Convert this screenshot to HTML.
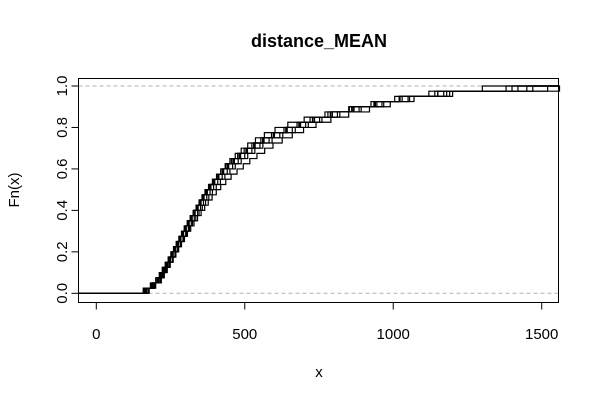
<!DOCTYPE html>
<html><head><meta charset="utf-8"><style>
body{margin:0;background:#fff}
svg{display:block;font-family:"Liberation Sans",Arial,sans-serif}
</style></head><body>
<svg id="chart" width="600" height="400" viewBox="0 0 600 400">
<text x="319" y="47" text-anchor="middle" font-size="18" font-weight="bold">distance_MEAN</text>
<text x="319" y="377" text-anchor="middle" font-size="15">x</text>
<text transform="translate(19,190) rotate(-90)" text-anchor="middle" font-size="15">Fn(x)</text>
<g id="marks"></g>
<rect x="78.5" y="78.5" width="480" height="224" fill="none" stroke="#000" stroke-width="1"/>
<g id="axes"></g>
</svg>
<script>
const xTicks=[0,500,1000,1500];
const yTicks=[0,0.2,0.4,0.6,0.8,1.0];
const yTickLabels=["0.0","0.2","0.4","0.6","0.8","1.0"];
const s1=[165,190,207,218,228,238,248,257,266,275,283,292,301,311,321,332,342,352,362,372,384,397,411,427,444,462,483,506,532,562,598,641,685,730,790,864,940,1023,1150,1450];
const s2=[158,182,200,212,222,232,242,251,260,269,278,287,296,306,316,326,336,346,356,366,378,391,405,420,437,455,476,498,524,554,590,632,676,720,780,852,925,1005,1120,1380];
const s3=[175,198,216,226,236,246,256,265,274,283,292,301,310,320,330,341,351,361,372,383,395,409,424,441,459,478,500,524,551,582,618,660,705,752,812,885,962,1050,1180,1520];
const s4=[160,186,204,215,225,235,245,254,263,272,280,289,298,308,318,329,339,349,359,369,380,392,405,419,434,450,468,488,510,536,566,602,645,700,770,850,935,1020,1140,1300];
const s5=[170,195,212,224,235,246,257,267,277,287,297,307,318,329,341,353,365,377,390,404,419,436,454,474,495,517,541,567,595,626,660,698,740,790,850,920,990,1070,1200,1420];
const s6=[168,192,210,221,231,241,250,259,268,277,285,294,303,313,323,333,343,353,363,374,386,399,413,429,446,465,486,509,535,565,600,643,688,735,795,868,945,1030,1170,1560];
const s7=[162,188,206,217,227,237,247,256,265,274,282,291,300,309,319,329,339,349,359,370,382,395,409,425,442,460,481,504,530,560,596,638,682,728,788,860,938,1020,1150,1400];
const s8=[178,200,219,229,239,249,259,268,277,286,295,304,314,324,335,346,357,368,379,391,404,418,433,450,468,488,510,534,561,592,628,670,714,760,820,892,968,1055,1190,1470];
const series=[s1,s2,s3,s4,s5,s6,s7,s8];

const NS="http://www.w3.org/2000/svg";
const L=78.5,R=558.5,T=78.5,B=302.5;
const X=v=>96.3+(v-0)*(541.7-96.3)/1500;
const Y=v=>293.3-v*(293.3-86);
const marks=document.getElementById('marks');
const axes=document.getElementById('axes');
function el(tag,attrs,parent){const e=document.createElementNS(NS,tag);for(const k in attrs)e.setAttribute(k,attrs[k]);parent.appendChild(e);return e;}

[0,1].forEach(v=>{
  const g=el('line',{x1:L,x2:R,y1:Y(v),y2:Y(v),stroke:'#b0b0b0','stroke-dasharray':'4,3'},marks);
  
  
});

series.forEach((s,i)=>{
  const xs=s.slice().sort((a,b)=>a-b);const n=xs.length;
  let d=`M${L},${Y(0)} H${X(xs[0])}`;
  for(let k=0;k<n;k++){
    d+=` V${Y((k+1)/n)}`;
    d+=` H${k<n-1?X(xs[k+1]):R}`;
  }
  const p=el('path',{d:d,fill:'none',stroke:'#000','stroke-width':1.2},marks);
  
  
});

xTicks.forEach(v=>{
  const t=el('line',{x1:X(v),x2:X(v),y1:B,y2:B+7,stroke:'#000'},axes);
  
  
  const lb=el('text',{x:X(v),y:339,'text-anchor':'middle','font-size':15},axes);
  lb.textContent=String(v);
  
  
});
yTicks.forEach((v,i)=>{
  const t=el('line',{x1:L-7,x2:L,y1:Y(v),y2:Y(v),stroke:'#000'},axes);
  
  
  const lb=el('text',{transform:`translate(67,${Y(v)}) rotate(-90)`,'text-anchor':'middle','font-size':15},axes);
  lb.textContent=yTickLabels[i];
  
  
});
</script>
</body></html>
